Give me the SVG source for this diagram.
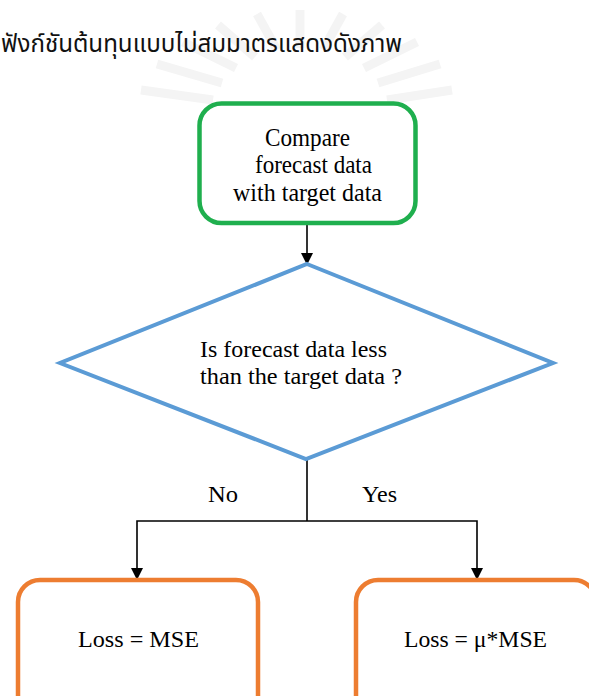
<svg xmlns="http://www.w3.org/2000/svg" width="589" height="696" viewBox="0 0 589 696">
<style>
.t{font-family:"Liberation Serif","Times New Roman",serif;fill:#000}
.th{font-family:"Noto Sans Thai","Noto Sans","DejaVu Sans",sans-serif;fill:#111}
.c{stroke:#000;stroke-width:1.6;fill:none}
.ray{stroke:#f4f4f4;stroke-width:9;stroke-linecap:butt}
</style>
<defs>
<marker id="ah" markerWidth="12" markerHeight="12" refX="11" refY="6" orient="auto" markerUnits="userSpaceOnUse">
<path d="M0,0 L12,6 L0,12 Z" fill="#000"/>
</marker>
</defs>
<rect width="589" height="696" fill="#fff"/>
<g id="watermark">
<line class="ray" x1="213" y1="100" x2="141" y2="90"/>
<line class="ray" x1="222" y1="83" x2="157" y2="64"/>
<line class="ray" x1="236" y1="68" x2="183" y2="42"/>
<line class="ray" x1="255" y1="57" x2="218" y2="25"/>
<line class="ray" x1="277" y1="50" x2="257" y2="14"/>
<line class="ray" x1="300" y1="48" x2="300" y2="10"/>
<line class="ray" x1="323" y1="50" x2="343" y2="14"/>
<line class="ray" x1="345" y1="57" x2="382" y2="25"/>
<line class="ray" x1="364" y1="68" x2="417" y2="42"/>
<line class="ray" x1="378" y1="83" x2="440" y2="64"/>
<line class="ray" x1="387" y1="100" x2="452" y2="90"/>
</g>
<text class="th" x="1" y="52" font-size="25" textLength="401" lengthAdjust="spacingAndGlyphs">ฟังก์ชันต้นทุนแบบไม่สมมาตรแสดงดังภาพ</text>
<g id="connectors">
<line class="c" x1="307" y1="224" x2="307" y2="264" marker-end="url(#ah)"/>
<polyline class="c" points="307,460 307,521"/>
<polyline class="c" points="307,521 137,521 137,579" marker-end="url(#ah)"/>
<polyline class="c" points="307,521 477,521 477,579" marker-end="url(#ah)"/>
<text class="t" x="208" y="502" font-size="24" textLength="30" lengthAdjust="spacingAndGlyphs">No</text>
<text class="t" x="362" y="502" font-size="24" textLength="35" lengthAdjust="spacingAndGlyphs">Yes</text>
</g>
<g id="compare">
<rect x="199.5" y="103.5" width="216" height="119.5" rx="22" fill="#fff" stroke="#1faf4e" stroke-width="4.5"/>
<text class="t" x="265" y="146" font-size="25" textLength="85" lengthAdjust="spacingAndGlyphs">Compare</text>
<text class="t" x="255" y="173" font-size="25" textLength="117" lengthAdjust="spacingAndGlyphs">forecast data</text>
<text class="t" x="233" y="201" font-size="25" textLength="149" lengthAdjust="spacingAndGlyphs">with target data</text>
</g>
<g id="decision">
<polygon points="307,264 553,363 306,459 60,363" fill="#fff" stroke="#5b9bd5" stroke-width="4"/>
<text class="t" x="200" y="357" font-size="23.5" textLength="187" lengthAdjust="spacingAndGlyphs">Is forecast data less</text>
<text class="t" x="200" y="384" font-size="23.5" textLength="202" lengthAdjust="spacingAndGlyphs">than the target data ?</text>
</g>
<g id="loss-mse">
<rect x="18" y="580" width="240" height="140" rx="22" fill="#fff" stroke="#ed7d31" stroke-width="4.5"/>
<text class="t" x="78" y="647" font-size="24" textLength="121" lengthAdjust="spacingAndGlyphs">Loss = MSE</text>
</g>
<g id="loss-mu-mse">
<rect x="356" y="580" width="240" height="140" rx="22" fill="#fff" stroke="#ed7d31" stroke-width="4.5"/>
<text class="t" x="404" y="647" font-size="24" textLength="143" lengthAdjust="spacingAndGlyphs">Loss = μ*MSE</text>
</g>
</svg>
